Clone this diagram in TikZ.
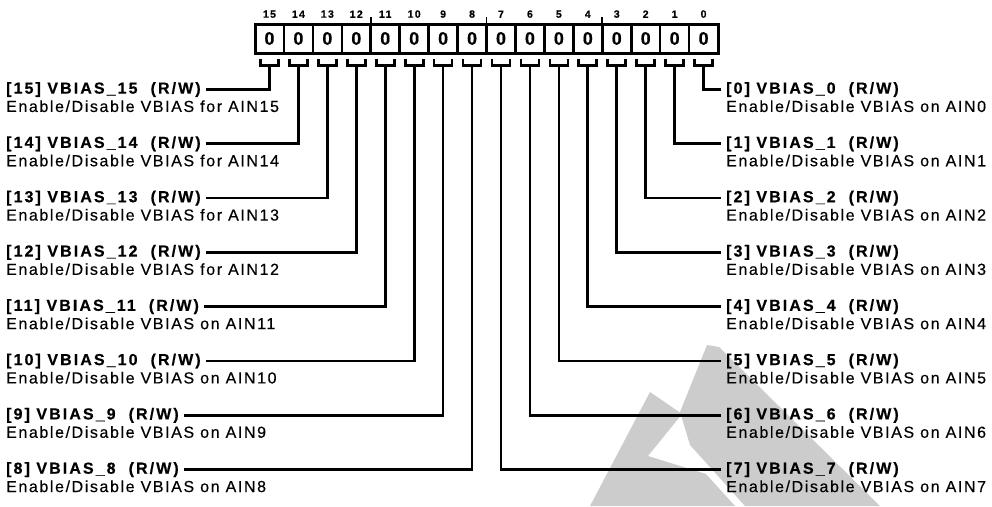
\documentclass[tikz,border=0pt]{standalone}
\usepackage{fontspec}
\setmainfont[LetterSpace=10,FakeBold=0.35]{Liberation Sans}
\newfontfamily\titlefont[LetterSpace=13,BoldFeatures={FakeBold=0.5}]{Liberation Sans}
\usetikzlibrary{positioning}

\tikzset{
  cell/.style={draw,line width=2.6pt,minimum width=28.94pt,minimum height=29pt,
    inner sep=0pt,outer sep=0pt,font=\titlefont\bfseries\fontsize{18}{18}\selectfont},
  bitno/.style={inner sep=0pt,font=\titlefont\bfseries\fontsize{10.5}{11}\selectfont},
  regtitle/.style={inner sep=0pt,font=\titlefont\bfseries\fontsize{16}{19}\selectfont},
  regdesc/.style={inner sep=0pt,font=\fontsize{16}{19}\selectfont},
  wire/.style={line width=2.7pt}
}

\begin{document}
\begin{tikzpicture}[x=1pt,y=-1pt]
  \useasboundingbox (0,0) rectangle (992,506);
  % watermark
  \fill[black!20] (590,506) -- (650,392) -- (682,414) -- (648,456) -- (706,474) -- (735,506) -- cycle;
  \fill[black!20] (707,345) -- (719,347) -- (880,506) -- (745,506) -- (690,445) -- (680,412) -- cycle;
  % register cells
  \foreach \b in {0,...,15}{
    \node[cell] (c\b) at ({269.47+(15-\b)*28.94},38.5) {0};
    \node[bitno,above=6pt of c\b] {\b};
    \draw[wire] ([xshift=-9pt,yshift=-5.5pt]c\b.south) -- ++(0,7) -- ++(18,0) -- ++(0,-7);
  }
  \draw[line width=3pt] (c15.north west) rectangle (c0.south east);
  % nibble ticks
  \foreach \b in {11,7,3}
    \draw[line width=1.8pt] (c\b.north west) -- ++(0,-7);
  % left side, bits 15..8
  \foreach \b/\w in {15/for,14/for,13/for,12/for,11/on,10/on,9/on,8/on}{
    \node[regtitle,anchor=west] (t\b) at (6,{89.5+54.3*(15-\b)}) {[\b] VBIAS\_\b\ \ (R/W)};
    \node[regdesc,below=3pt of t\b.south west,anchor=north west] (d\b) {Enable/Disable VBIAS \w\ AIN\b};
    \draw[wire] ([xshift=5pt]t\b.east) -| ([yshift=-12.5pt]c\b.south);
  }
  % right side, bits 0..7
  \foreach \b in {0,...,7}{
    \node[regtitle,anchor=west] (t\b) at (726,{89.5+54.3*\b}) {[\b] VBIAS\_\b\ \ (R/W)};
    \node[regdesc,below=3pt of t\b.south west,anchor=north west] (d\b) {Enable/Disable VBIAS on AIN\b};
    \draw[wire] ([xshift=-5pt]t\b.west) -| ([yshift=-12.5pt]c\b.south);
  }
\end{tikzpicture}
\end{document}
